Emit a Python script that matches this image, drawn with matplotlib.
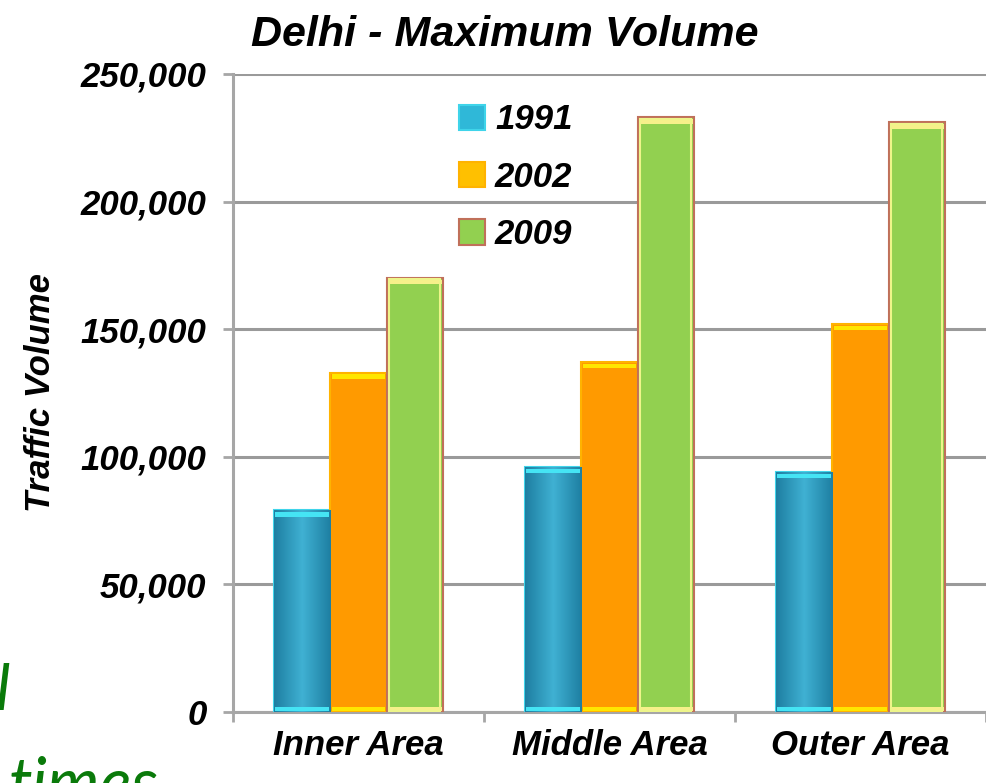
"""
delhi_volume.py
"""
import numpy as np
import matplotlib
matplotlib.use('Agg')
import matplotlib.pyplot as plt
from matplotlib.ticker import FuncFormatter, FixedLocator
# ------------------------Data--------------------------------------------------
areas = ['Inner Area', 'Middle Area', 'Outer Area']
years = ['1991', '2002', '2009']
vol_1991 = [79000, 96000, 94000]
vol_2002 = [133000, 137000, 152000]
vol_2009 = [170000, 233000, 231000]
# ------------------------Style-------------------------------------------------
plt.rcParams['font.family'] = ['Liberation Sans', 'DejaVu Sans']
plt.rcParams['font.weight'] = 'bold'
plt.rcParams['font.style'] = 'italic'
plt.rcParams['axes.titleweight'] = 'bold'
plt.rcParams['axes.labelweight'] = 'bold'
face = ['#2596bb', '#ff9a00', '#92d050']
edge = ['#3fd4ea', '#ffb300', '#c0705a']
top = ['#45e4f4', '#ffe600', '#f6f08a']
width = 0.224
# ------------------------------------------------------------------------------
fig = plt.figure(figsize=(9.86, 7.83), dpi=100)
ax = fig.add_axes([0.2363, 0.0907, 0.7637, 0.8148])
x = np.arange(len(areas))
series = [vol_1991, vol_2002, vol_2009]
grad = np.abs(np.linspace(-1, 1, 64))[None, :]
for k, vals in enumerate(series):
    pos = x + (k - 1)*width
    bars = ax.bar(pos, vals, width, color=face[k], edgecolor=edge[k],
                  linewidth=1.5, zorder=3, label=years[k])
    # shading across the blue bars
    if k == 0:
        for b in bars:
            im = ax.imshow(grad, cmap=matplotlib.colors.LinearSegmentedColormap.from_list(
                'bl', ['#3fb0d2', '#1e7fa2']), aspect='auto', zorder=3.5,
                extent=[b.get_x(), b.get_x()+width, 0, b.get_height()])
            im.set_clip_path(b)
    # highlight strip on top and bottom of each bar
    ax.bar(pos, [1800]*len(vals), width*0.96, bottom=[v - 2400 for v in vals],
           color=top[k], linewidth=0, zorder=4)
    ax.bar(pos, [1500]*len(vals), width*0.96, bottom=500,
           color=top[k], linewidth=0, zorder=4)
    if k == 2:
        ax.bar(pos, [v - 900 for v in vals], width*0.9, bottom=450, fill=False,
               edgecolor='#eef58a', linewidth=1.5, zorder=4.5)
# ------------------------------------------------------------------------------
ax.set_xlim(-0.5, 2.5)
ax.set_ylim(0, 250000)
ax.set_yticks(np.arange(0, 250001, 50000))
ax.yaxis.set_major_formatter(FuncFormatter(lambda v, p: '{:,.0f}'.format(v)))
ax.set_xticks(x)
ax.set_xticklabels(areas)
ax.xaxis.set_minor_locator(FixedLocator([-0.5, 0.5, 1.5, 2.5]))
ax.tick_params(axis='x', which='major', length=0, pad=12, labelsize=25)
ax.tick_params(axis='x', which='minor', length=7, width=2, color='#a6a6a6')
ax.tick_params(axis='y', length=7, width=2, color='#a6a6a6', labelsize=25, pad=12)
ax.grid(True, axis='y', color='#9a9a9a', linewidth=2.2, zorder=0)
ax.set_axisbelow(True)
for s in ['top', 'right']:
    ax.spines[s].set_visible(False)
for s in ['left', 'bottom']:
    ax.spines[s].set_color('#a6a6a6')
    ax.spines[s].set_linewidth(2.2)
ax.set_ylabel('Traffic Volume', fontsize=25)
ax.yaxis.set_label_coords(-0.234, 0.5)
ax.set_title('Delhi - Maximum Volume', fontsize=31, pad=20, x=0.361)
# ------------------------Legend------------------------------------------------
leg = ax.legend(loc='upper left', bbox_to_anchor=(0.258, 1.003), frameon=False,
                fontsize=25, handlelength=0.75, handleheight=0.75,
                handletextpad=0.3, labelspacing=0.70)
for h, c in zip(leg.legend_handles, ['#2fb8d8', '#ffc000', '#92d050']):
    h.set_facecolor(c)
# ------------------------Slide text--------------------------------------------
fig.text(-0.004, 0.093, 'l', fontsize=46, color='#0a7a0a', family='Lato',
         style='italic', weight='normal', va='baseline', ha='left')
fig.text(0.009, -0.029, 'times', fontsize=48, color='#0a7a0a', family='Lato',
         style='italic', weight='normal', va='baseline', ha='left')
plt.savefig('out.png', dpi=100)
